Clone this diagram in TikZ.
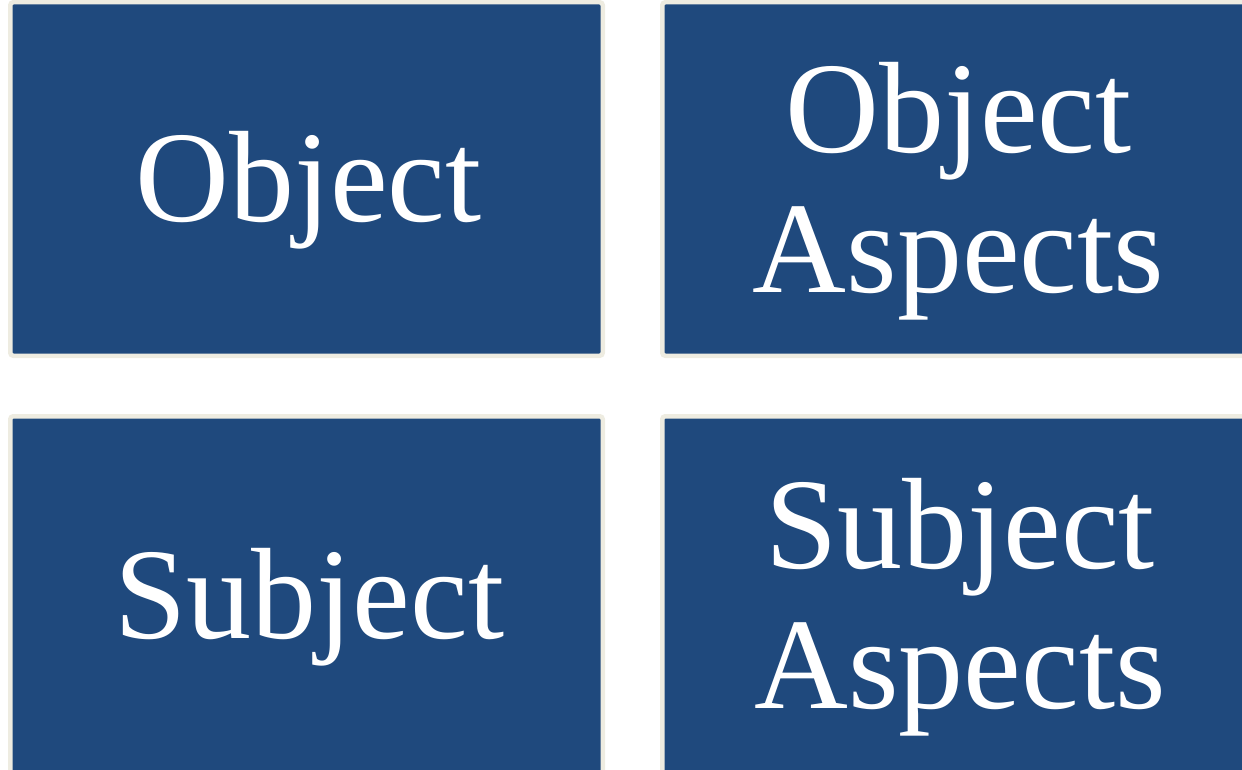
\documentclass[tikz,border=0pt]{standalone}
\usepackage{fontspec}
\setmainfont{Liberation Serif}
\definecolor{boxblue}{HTML}{1F497D}
\definecolor{boxrim}{HTML}{EEECE1}
\begin{document}
\begin{tikzpicture}[x=1pt,y=-1pt,
  tile/.style={draw=boxrim, fill=boxblue, line width=4.5pt, rounded corners=3pt,
    minimum width=592.5pt, minimum height=353.5pt, inner sep=0pt, outer sep=0pt},
  word/.style={text=white, font=\fontsize{130}{140}\selectfont, align=center, inner sep=0pt}]
\useasboundingbox (0,0) rectangle (1242,770);
\clip (0,0) rectangle (1242,770);
\node[tile] (tl) at (306.5,179) {};
\node[tile] (tr) at (958.5,179) {};
\node[tile, minimum height=370pt] (bl) at (306.5,601.25) {};
\node[tile, minimum height=370pt] (br) at (958.5,601.25) {};
\node[word] (tlt) at (308.5,190.5) {Object};
\node[word] (trt) at (958.5,191.5) {Object\\Aspects};
\node[word] (blt) at (309.5,607.5) {Subject};
\node[word] (brt) at (960,607.5) {Subject\\Aspects};
\end{tikzpicture}
\end{document}
